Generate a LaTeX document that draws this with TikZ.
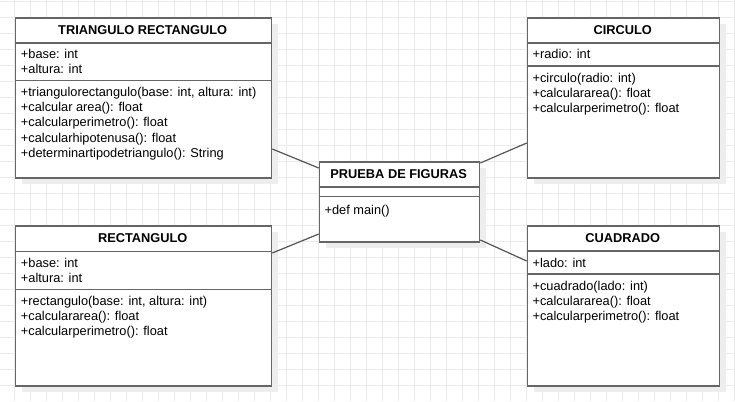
\documentclass[tikz,border=0pt]{standalone}
\usepackage{fontspec}
\setmainfont{Liberation Sans}
\usepackage{tikz}
\usetikzlibrary{shadows}
\definecolor{boxgray}{HTML}{666666}
\definecolor{gridgray}{HTML}{EBEBEB}
\definecolor{linkgray}{HTML}{555555}

\begin{document}
\begin{tikzpicture}[x=0.75pt, y=-0.75pt,
        every node/.style={font=\fontsize{9.6}{11.4}\selectfont},
        classbox/.style={draw=boxgray, line width=1.2pt, fill=white, anchor=north west, inner sep=0pt,
            drop shadow={shadow xshift=4.5pt, shadow yshift=-4.5pt, fill=black!7, opacity=1}},
        classname/.style={font=\fontsize{9.6}{11.4}\selectfont\bfseries},
        members/.style={anchor=north west, align=left, inner sep=0pt},
        divider/.style={draw=boxgray, line width=1.2pt},
        gridline/.style={draw=gridgray, line width=1.1pt},
        assoc/.style={draw=linkgray, line width=0.9pt}]
            \useasboundingbox (0,0) rectangle (735,401);
            \fill[white] (0,0) rectangle (735,401);
            % background grid
            \foreach \k in {-1,...,45}
                \draw[gridline] ({14.7+16*\k},0) -- ({14.7+16*\k},401);
            \foreach \k in {0,...,24}
                \draw[gridline] (0,{1.3+16*\k}) -- (735,{1.3+16*\k});
            % classes
            \draw (14.7,17.3) node[classbox, minimum width=192pt, minimum height=120pt](tri){};
            \draw (526.7,17.3) node[classbox, minimum width=144pt, minimum height=120pt](circ){};
            \draw (14.7,225.3) node[classbox, minimum width=192pt, minimum height=120pt](rect){};
            \draw (526.7,225.3) node[classbox, minimum width=144pt, minimum height=120pt](cuad){};
            \draw (318.7,161.3) node[classbox, minimum width=120pt, minimum height=60pt](pru){};
            % dividers
            \draw[divider] ([yshift=-19.1pt]tri.north west) -- ([yshift=-19.1pt]tri.north east);
            \draw[divider] ([yshift=-47.5pt]tri.north west) -- ([yshift=-47.5pt]tri.north east);
            \draw[divider] ([yshift=-19.1pt]circ.north west) -- ([yshift=-19.1pt]circ.north east);
            \draw[divider] ([yshift=-36.5pt]circ.north west) -- ([yshift=-36.5pt]circ.north east);
            \draw[divider] ([yshift=-19.6pt]rect.north west) -- ([yshift=-19.6pt]rect.north east);
            \draw[divider] ([yshift=-48pt]rect.north west) -- ([yshift=-48pt]rect.north east);
            \draw[divider] ([yshift=-19.1pt]cuad.north west) -- ([yshift=-19.1pt]cuad.north east);
            \draw[divider] ([yshift=-36.5pt]cuad.north west) -- ([yshift=-36.5pt]cuad.north east);
            \draw[divider] ([yshift=-19.1pt]pru.north west) -- ([yshift=-19.1pt]pru.north east);
            \draw[divider] ([yshift=-26.5pt]pru.north west) -- ([yshift=-26.5pt]pru.north east);
            % names
            \draw (142.7,30.5) node[classname](tri name){TRIANGULO RECTANGULO};
            \draw (622.7,30.5) node[classname](circ name){CIRCULO};
            \draw (142.7,238.5) node[classname](rect name){RECTANGULO};
            \draw (622.7,238.5) node[classname](cuad name){CUADRADO};
            \draw (398.7,174) node[classname](pru name){PRUEBA DE FIGURAS};
            % members
            \draw (20.7,49) node[members](tri attr){+base: int\\+altura: int};
            \draw (20.7,87) node[members](tri ops){+triangulorectangulo(base: int, altura: int)\\+calcular area(): float\\+calcularperimetro(): float\\+calcularhipotenusa(): float\\+determinartipodetriangulo(): String};
            \draw (532.3,49) node[members](circ attr){+radio: int};
            \draw (532.3,73) node[members](circ ops){+circulo(radio: int)\\+calculararea(): float\\+calcularperimetro(): float};
            \draw (20.7,258) node[members](rect attr){+base: int\\+altura: int};
            \draw (20.7,296) node[members](rect ops){+rectangulo(base: int, altura: int)\\+calculararea(): float\\+calcularperimetro(): float};
            \draw (532.3,258) node[members](cuad attr){+lado: int};
            \draw (532.3,281) node[members](cuad ops){+cuadrado(lado: int)\\+calculararea(): float\\+calcularperimetro(): float};
            \draw (324.3,205) node[members](pru ops){+def main()};
            % associations
            \draw[assoc] (tri.east |- 0,149) -- (pru.west |- 0,168);
            \draw[assoc] (pru.east |- 0,163) -- (circ.west |- 0,143);
            \draw[assoc] (rect.east |- 0,253) -- (pru.west |- 0,234);
            \draw[assoc] (pru.east |- 0,240) -- (cuad.west |- 0,261);
        \end{tikzpicture}
\end{document}
